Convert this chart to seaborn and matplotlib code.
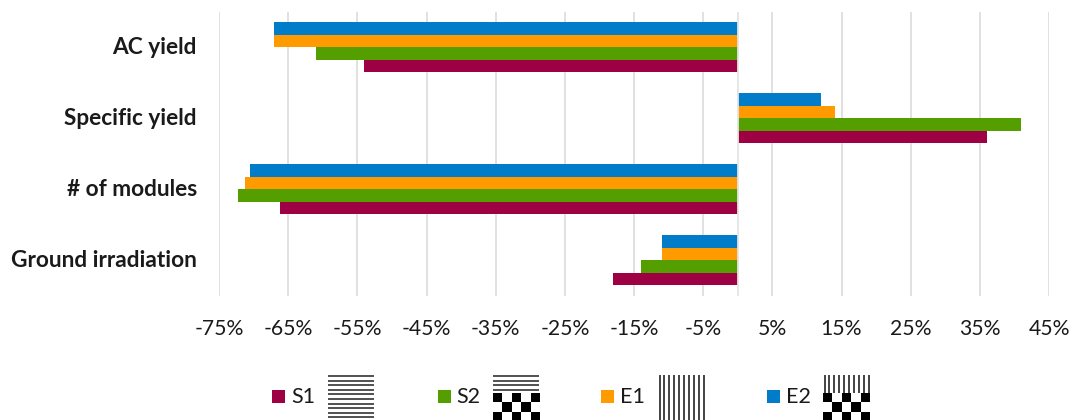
import numpy as np
import pandas as pd
import matplotlib
matplotlib.use("Agg")
import matplotlib.pyplot as plt
from matplotlib.patches import Rectangle
import seaborn as sns

categories = ["AC yield", "Specific yield", "# of modules", "Ground irradiation"]
series_names = ["E2", "E1", "S2", "S1"]
E2 = [-67.0, 12.0, -70.5, -11.0]
E1 = [-67.0, 14.0, -71.2, -11.0]
S2 = [-61.0, 41.0, -72.2, -14.0]
S1 = [-54.0, 36.0, -66.2, -18.0]
palette = {"S1": "#9E0044", "S2": "#549E00", "E1": "#FF9A00", "E2": "#007CC8"}
xticks = list(range(-75, 46, 10))
xticklabels = [f"{v}%" for v in xticks]

W, H = 1075, 420
sns.set_theme(style="white")
plt.rcParams["font.family"] = ["Lato", "DejaVu Sans"]
TXT = "#1a1a1a"

df = pd.DataFrame({
    "category": np.tile(categories, 4),
    "series": np.repeat(series_names, 4),
    "value": E2 + E1 + S2 + S1,
})

fig = plt.figure(figsize=(W / 100, H / 100), dpi=100, facecolor="white")
def px_axes(x0, y0, x1, y1, **kw):
    return fig.add_axes([x0 / W, 1 - y1 / H, (x1 - x0) / W, (y1 - y0) / H], **kw)

ax = px_axes(219, 12, 1049, 295.5)
ax.set_axisbelow(True)
sns.barplot(data=df, y="category", x="value", hue="series", order=categories,
            hue_order=series_names, palette=palette, width=0.705, saturation=1,
            dodge=True, legend=False, ax=ax, orient="h", linewidth=0)
ax.set_xlim(-75, 45)
ax.set_ylim(3.5, -0.5)
ax.set_xticks(xticks, xticklabels)
ax.set_xlabel("")
ax.set_ylabel("")
ax.grid(axis="x", color="#DEDEDE", linewidth=1.3)
ax.grid(axis="y", visible=False)
ax.axvline(0, color="#E4E4E4", linewidth=1.3, zorder=5)
for s in ax.spines.values():
    s.set_visible(False)
ax.tick_params(axis="x", length=0, pad=17, labelsize=15.2, labelcolor=TXT)
ax.tick_params(axis="y", length=0, pad=16, labelsize=16.3, labelcolor=TXT)
for t in ax.get_yticklabels():
    t.set_fontweight("bold")
    t.set_verticalalignment("center")

# legend: swatch, label, pattern key
legend_items = [("S1", 272, 291, 328, "h", False),
                ("S2", 438, 456, 493, "h", True),
                ("E1", 601, 620, 658, "v", False),
                ("E2", 767, 786, 823, "v", True)]
canvas = fig.add_axes([0, 0, 1, 1], facecolor="none")
for name, sx, tx, px, kind, checker in legend_items:
    canvas.add_patch(Rectangle((sx, 390), 13, 13, facecolor=palette[name], edgecolor="none"))
    canvas.text(tx, 397, name, fontsize=15.5, color=TXT, va="center", ha="left")
    split = 394 if checker else 421
    if kind == "h":
        canvas.hlines(np.arange(376, split, 4.6), px, px + 46, color="#222222", linewidth=1.1)
    else:
        canvas.vlines(np.arange(px + 1.5, px + 47, 4.9), 375, split + 4 if checker else split,
                      color="#111111", linewidth=1.1)
    if checker:
        board = np.indices((3, 5)).sum(axis=0) % 2
        canvas.imshow(board, cmap="gray", vmin=0, vmax=1, interpolation="nearest",
                      extent=(px, px + 46.5, 421, 393.5), aspect="auto", zorder=2)
canvas.set_xlim(0, W)
canvas.set_ylim(H, 0)
canvas.axis("off")

fig.savefig("out.png", dpi=100)
